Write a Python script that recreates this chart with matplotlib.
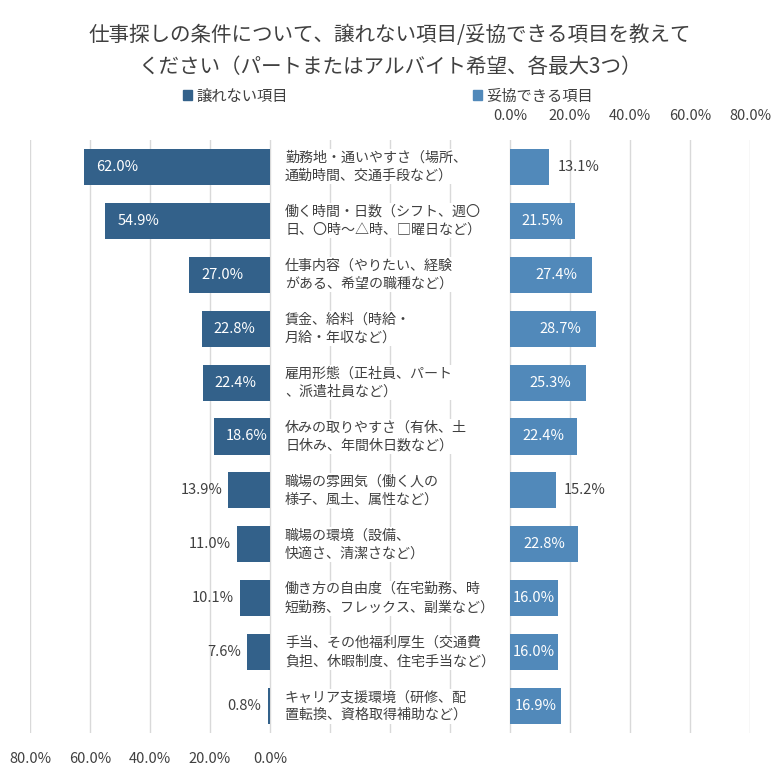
import matplotlib.pyplot as plt
import matplotlib.patches as mpatches
import numpy as np

plt.rcParams['font.family'] = ['Noto Sans CJK JP', 'DejaVu Sans']

categories = [
    '勤務地・通いやすさ（場所、\n通勤時間、交通手段など）',
    '働く時間・日数（シフト、週〇\n日、〇時～△時、□曜日など）',
    '仕事内容（やりたい、経験\nがある、希望の職種など）',
    '賃金、給料（時給・\n月給・年収など）',
    '雇用形態（正社員、パート\n、派遣社員など）',
    '休みの取りやすさ（有休、土\n日休み、年間休日数など）',
    '職場の雰囲気（働く人の\n様子、風土、属性など）',
    '職場の環境（設備、\n快適さ、清潔さなど）',
    '働き方の自由度（在宅勤務、時\n短勤務、フレックス、副業など）',
    '手当、その他福利厚生（交通費\n負担、休暇制度、住宅手当など）',
    'キャリア支援環境（研修、配\n置転換、資格取得補助など）',
]
jouho_nai = [62.0, 54.9, 27.0, 22.8, 22.4, 18.6, 13.9, 11.0, 10.1, 7.6, 0.8]
dakyou = [13.1, 21.5, 27.4, 28.7, 25.3, 22.4, 15.2, 22.8, 16.0, 16.0, 16.9]
left_inside = [True, True, True, True, True, True, False, False, False, False, False]
right_inside = [False, True, True, True, True, True, False, True, True, True, True]
left_ticks = [80, 60, 40, 20, 0]
right_ticks = [0, 20, 40, 60, 80]

c_left = '#33618a'
c_right = '#5189ba'
gray = '#404040'
off = 80  # gap for the labels in the middle (in % units)

fig = plt.figure(figsize=(7.8, 7.72), dpi=100)
ax = fig.add_axes([30 / 780, 1 - 733 / 772, 720 / 780, 593 / 772])

y = np.arange(len(categories))
ax.barh(y, [-v for v in jouho_nai], height=0.67, color=c_left, zorder=2)
ax.barh(y, dakyou, left=off, height=0.67, color=c_right, zorder=2)

for i in range(len(categories)):
    v = jouho_nai[i]
    if left_inside[i]:
        ax.text(-v + 4, i, f'{v:.1f}%', ha='left', va='center', color='white', fontsize=10.5, zorder=4)
    else:
        ax.text(-v - 2, i, f'{v:.1f}%', ha='right', va='center', color=gray, fontsize=10.5, zorder=4)
    v = dakyou[i]
    if right_inside[i]:
        ax.text(off + max(v / 2, v - 12), i, f'{v:.1f}%', ha='center', va='center', color='white', fontsize=10.5, zorder=4)
    else:
        ax.text(off + v + 2.7, i, f'{v:.1f}%', ha='left', va='center', color=gray, fontsize=10.5, zorder=4)
    ax.text(5, i, categories[i], ha='left', va='center', color=gray, fontsize=10.1, linespacing=1.38,
            bbox=dict(facecolor='white', edgecolor='none', pad=1), zorder=3)

ax.set_xlim(-80, 160)
ax.set_ylim(len(categories) - 0.5, -0.5)
ax.set_yticks([])
grid_x = np.arange(-80, 161, 20)
ax.set_xticks(grid_x)
ax.set_xticklabels([f'{-t:.1f}%' if t <= 0 else '' for t in grid_x], color=gray, fontsize=10.5)
ax.tick_params(axis='x', length=0, pad=14)
ax.grid(axis='x', color='#d9d9d9', linewidth=1, zorder=0)
for s in ax.spines.values():
    s.set_visible(False)

sec = ax.secondary_xaxis('top', functions=(lambda x: x - off, lambda x: x + off))
sec.set_xticks(right_ticks)
sec.set_xticklabels([f'{t:.1f}%' for t in right_ticks], color=gray, fontsize=10.5)
sec.tick_params(length=0, pad=12)
for s in sec.spines.values():
    s.set_visible(False)

fig.text(0.5, 1 - 35 / 772, '仕事探しの条件について、譲れない項目/妥協できる項目を教えて',
         ha='center', va='center', fontsize=14.8, color=gray)
fig.text(0.5, 1 - 67 / 772, 'ください（パートまたはアルバイト希望、各最大3つ）',
         ha='center', va='center', fontsize=14.8, color=gray)

handles = [mpatches.Patch(color=c_left, label='譲れない項目'),
           mpatches.Patch(color=c_right, label='妥協できる項目')]
fig.legend(handles=handles, loc='center', bbox_to_anchor=(388 / 780, 1 - 96 / 772), ncol=2,
           frameon=False, fontsize=11, handlelength=0.6, handleheight=0.6, handletextpad=0.3,
           columnspacing=12.1, labelcolor=gray)

fig.savefig('out.png', dpi=100)
